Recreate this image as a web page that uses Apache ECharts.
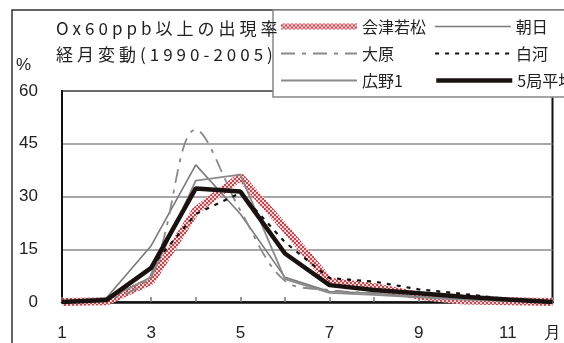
<!DOCTYPE html>
<html>
<head>
<meta charset="utf-8">
<script src="https://cdn.jsdelivr.net/npm/echarts@6/dist/echarts.min.js"></script>
<style>
  html, body { margin: 0; padding: 0; background: #fff; }
  #chart { width: 564px; height: 343px; }
</style>
</head>
<body>
<div id="chart"></div>
<script>
// Months 1..12 and the labels shown under the axis
const months = [1, 2, 3, 4, 5, 6, 7, 8, 9, 10, 11, 12];
const monthLabels = ['1', '', '3', '', '5', '', '7', '', '9', '', '11', '月'];
const yTicks = [0, 15, 30, 45, 60];

// Monthly occurrence rate (%) of Ox >= 60ppb at each station
const aizuwakamatsu = [0, 0.2, 6, 26, 35.6, 21, 5.8, 4.2, 1.8, 0.4, 0.2, 0];
const asahi        = [0, 1.2, 16, 39, 25, 7, 3, 2.5, 1.5, 0.8, 0.3, 0];
const ohara        = [0, 0.8, 8, 49, 26, 6, 3.4, 2.5, 1.5, 1, 0.4, 0];
const shirakawa    = [0, 0.5, 10, 25, 31, 17, 6.8, 5.8, 3.6, 2.3, 0.8, 0];
const hirono1      = [0, 0.8, 7, 34.5, 36.2, 6.5, 2.6, 2, 1.3, 0.7, 0.3, 0];
const average5     = [0, 0.6, 9.7, 32.3, 31.4, 13.8, 4.8, 3.4, 2.5, 1.5, 0.7, 0];

const titleLines = ['Ox60ppb以上の出現率', '経月変動(1990-2005)'];

// Red checkered texture for the thick band line
const pat = document.createElement('canvas');
pat.width = 4; pat.height = 4;
const pctx = pat.getContext('2d');
pctx.fillStyle = '#f7d8d8';
pctx.fillRect(0, 0, 4, 4);
pctx.fillStyle = '#cc4650';
pctx.fillRect(0, 0, 2, 2);
pctx.fillRect(2, 2, 2, 2);
const bandColor = { image: pat, repeat: 'repeat' };

// Spread the title characters apart with rich-text padding
const spaced = s => s.split('').map(c => '{s|' + c + '}').join('');
const titleText = titleLines.map(spaced).join('\n');

const numFont = '"Liberation Sans", Arial, sans-serif';
const jpFont = '"Noto Sans CJK JP", sans-serif';

// Line styles per station
const styles = {
  '会津若松': { color: bandColor, width: 8 },
  '朝日': { color: '#7a7a7a', width: 1.6 },
  '大原': { color: '#8a8a8a', width: 1.8, type: [14, 7, 4, 7] },
  '白河': { color: '#111', width: 2.2, type: [4, 6] },
  '広野1': { color: '#8a8a8a', width: 1.8 },
  '5局平均': { color: '#1a1210', width: 4.5 }
};

const chart = echarts.init(document.getElementById('chart'), null, { renderer: 'canvas' });

function lineSeries(name, data, extra) {
  const style = styles[name];
  return Object.assign({
    name: name,
    type: 'line',
    data: data,
    symbol: 'none',
    showSymbol: false,
    lineStyle: style,
    itemStyle: { color: style.color },
    emphasis: { disabled: true },
    animation: false
  }, extra || {});
}

const legendNames = ['会津若松', '朝日', '大原', '白河', '広野1', '5局平均'];

chart.setOption({
  animation: false,
  backgroundColor: '#fff',
  title: {
    text: titleText,
    left: 49,
    top: 11,
    textStyle: {
      fontFamily: jpFont,
      fontSize: 17,
      fontWeight: 'normal',
      color: '#222',
      lineHeight: 26,
      rich: {
        s: { fontFamily: jpFont, fontSize: 17, color: '#222', padding: [0, 2, 0, 2], lineHeight: 26 }
      }
    }
  },
  graphic: [
    {
      type: 'rect',
      z: -1,
      silent: true,
      shape: { x: 12, y: 10, width: 620, height: 400 },
      style: { fill: 'none', stroke: '#333', lineWidth: 1.5 }
    },
    {
      type: 'text',
      left: 16,
      top: 57,
      silent: true,
      style: { text: '%', font: '17px ' + numFont, fill: '#222' }
    }
  ],
  legend: {
    left: 273,
    top: 10,
    width: 320,
    padding: [7, 40, 7, 5],
    itemGap: 8,
    itemWidth: 76,
    itemHeight: 12,
    backgroundColor: '#fff',
    borderColor: '#888',
    borderWidth: 1.5,
    z: 6,
    itemStyle: { opacity: 0 },
    data: legendNames.map(n => ({
      name: n,
      lineStyle: { width: n === '会津若松' ? 6 : styles[n].width }
    })),
    textStyle: {
      fontFamily: jpFont,
      fontSize: 16,
      color: '#222',
      width: 64,
      lineHeight: 19
    }
  },
  grid: {
    left: 62,
    top: 91,
    right: 4,
    bottom: 41,
    show: true,
    borderColor: '#111',
    borderWidth: 2
  },
  xAxis: {
    type: 'category',
    data: months,
    boundaryGap: false,
    axisLine: { lineStyle: { color: '#111', width: 2.5 } },
    axisTick: { show: true, inside: true, length: 5, interval: 0, lineStyle: { color: '#777', width: 1.5 } },
    axisLabel: {
      interval: 0,
      margin: 23,
      fontFamily: numFont,
      fontSize: 17,
      color: '#222',
      formatter: (v, i) => monthLabels[i]
    },
    splitLine: { show: false }
  },
  yAxis: {
    type: 'value',
    min: yTicks[0],
    max: yTicks[yTicks.length - 1],
    interval: 15,
    axisLine: { show: true, lineStyle: { color: '#111', width: 2 } },
    axisTick: { show: false },
    axisLabel: { margin: 24, fontFamily: numFont, fontSize: 17, color: '#222' },
    splitLine: { lineStyle: { color: '#8a8a8a', width: 1.5 } }
  },
  series: [
    lineSeries('会津若松', aizuwakamatsu, { z: 2 }),
    lineSeries('朝日', asahi, { z: 3 }),
    lineSeries('大原', ohara, { z: 3, smooth: 0.35 }),
    lineSeries('白河', shirakawa, { z: 4 }),
    lineSeries('広野1', hirono1, { z: 3 }),
    lineSeries('5局平均', average5, { z: 5 })
  ]
});
</script>
</body>
</html>
